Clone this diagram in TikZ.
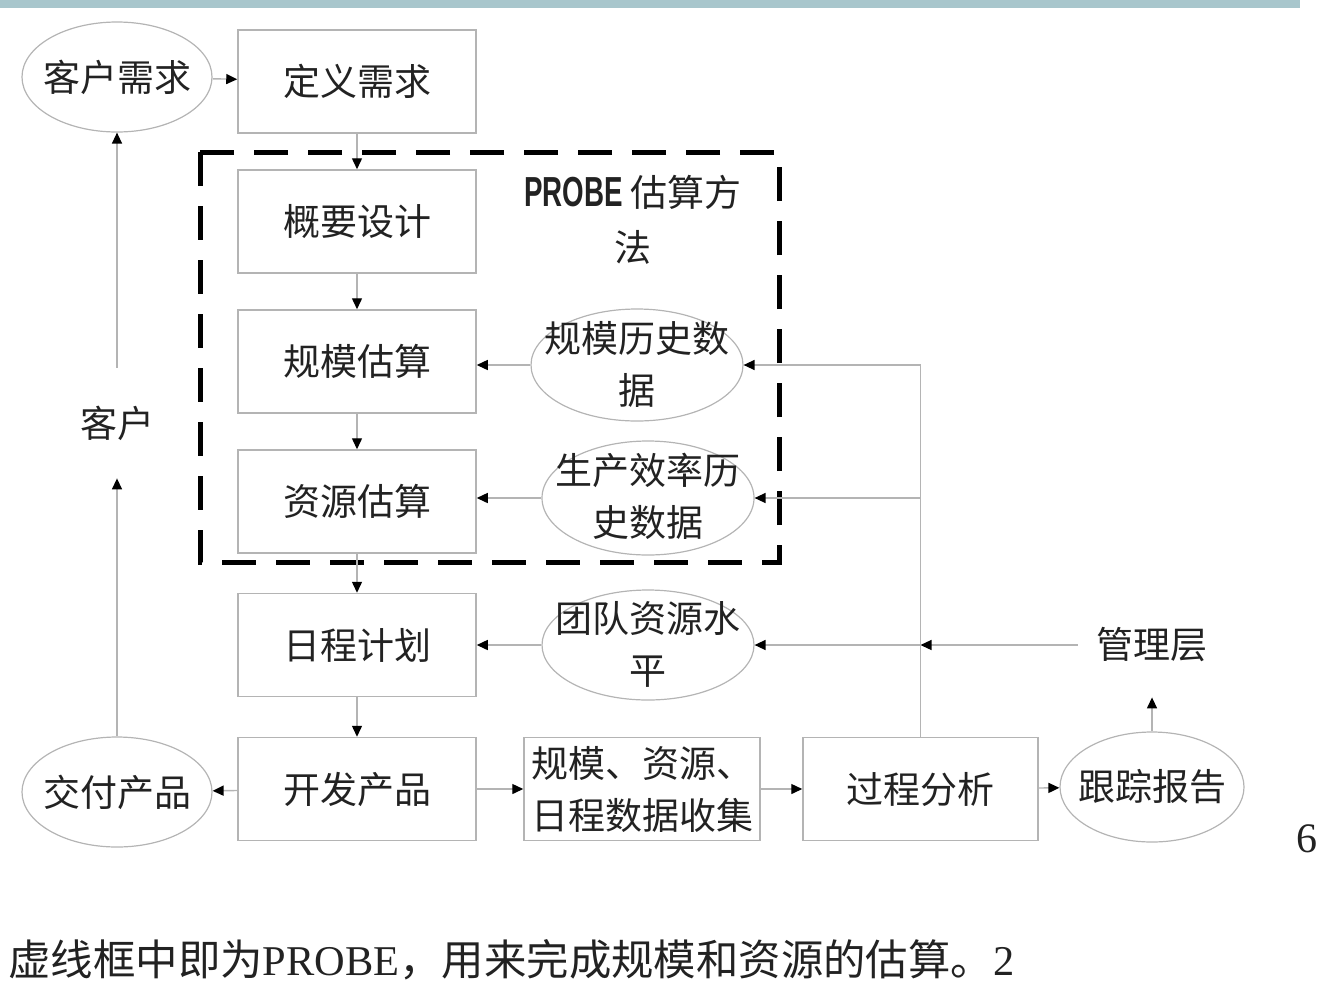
\documentclass[tikz,border=0pt]{standalone}
\usepackage{fontspec}
\setmainfont{Liberation Serif}
\newfontfamily\cjk{Noto Sans CJK SC}
\newfontfamily\lsans{Liberation Sans}
\usetikzlibrary{shapes.geometric,arrows.meta}
\definecolor{lg}{HTML}{B4B4B4}
\definecolor{barc}{HTML}{A8C6CC}
\definecolor{txt}{HTML}{222222}
\tikzset{
  box/.style={draw=lg, line width=0.75pt, minimum width=119pt, minimum height=51.5pt, inner sep=0pt,
    font=\cjk\fontsize{18.5}{26}\selectfont, text=txt, align=center},
  ell/.style={draw=lg, line width=0.6pt, ellipse, inner sep=0pt},
  etxt/.style={font=\cjk\fontsize{18.5}{26}\selectfont, text=txt, align=center, inner sep=0pt},
  arr/.style={draw=lg, line width=0.7pt, -{Triangle[length=5.5pt,width=5pt,color=black]}},
  conn/.style={draw=lg, line width=0.7pt},
}
\begin{document}
\begin{tikzpicture}[x=0.5pt,y=-0.5pt]
\useasboundingbox (0,0) rectangle (1337,991);
% top bar
\fill[barc] (0,0) rectangle (1300,8);
% dashed frame
\draw[black, line width=2.5pt, dash pattern=on 17pt off 10pt] (200,152) rectangle (779,562);
% boxes
\node[box] (dy) at (357,81.5) {定义需求};
\node[box] (gy) at (357,221.5) {概要设计};
\node[box] (gm) at (357,361.5) {规模估算};
\node[box] (zy) at (357,501.5) {资源估算};
\node[box] (rc) at (357,645) {日程计划};
\node[box] (kf) at (357,789) {开发产品};
\node[box, minimum width=118pt, align=left] (sj) at (642,789) {规模、资源、\\日程数据收集};
\node[box, minimum width=117.5pt] (pa) at (920.5,789) {过程分析};
% ellipses
\node[ell, minimum width=95pt, minimum height=55pt] (ck) at (117,77) {};
\node[etxt] at (ck) {客户需求};
\node[ell, minimum width=95pt, minimum height=55pt] (jf) at (117,792) {};
\node[etxt] at (jf) {交付产品};
\node[ell, minimum width=106pt, minimum height=56pt] (e1) at (637,365) {};
\node[etxt] at (637,364) {规模历史数\\据};
\node[ell, minimum width=106pt, minimum height=57pt] (e2) at (648,498) {};
\node[etxt] at (648,496) {生产效率历\\史数据};
\node[ell, minimum width=106pt, minimum height=55pt] (e3) at (648,645) {};
\node[etxt] at (648,644) {团队资源水\\平};
\node[ell, minimum width=92pt, minimum height=55pt] (tr) at (1152,787) {};
\node[etxt] at (tr) {跟踪报告};
% plain texts
\node[etxt, minimum height=55pt] (kh) at (117,423) {客户};
\node[etxt, minimum width=74pt, minimum height=52pt] (mg) at (1152,645) {管理层};
\node[inner sep=0pt, align=center, text=txt, font=\cjk\fontsize{18.5}{27.5}\selectfont] (pr) at (633,220)
  {{\lsans\bfseries\fontsize{21}{27.5}\selectfont\scalebox{0.66}[1]{PROBE}} 估算方\\法};
% junctions
\coordinate (j1) at (920.5,365);
\coordinate (j2) at (920.5,498);
\coordinate (j3) at (920.5,645);
% connectors
\draw[arr] (ck) -- (dy);
\draw[arr] (dy) -- (gy);
\draw[arr] (gy) -- (gm);
\draw[arr] (gm) -- (zy);
\draw[arr] (zy) -- (rc);
\draw[arr] (rc) -- (kf);
\draw[arr] (kf) -- (jf);
\draw[arr] (kf) -- (sj);
\draw[arr] (sj) -- (pa);
\draw[arr] (pa) -- (tr);
\draw[arr] (jf) -- (kh);
\draw[arr] (kh) -- (ck);
\draw[arr] (e1.west) -- (gm.east |- e1.west);
\draw[arr] (e2.west) -- (zy.east |- e2.west);
\draw[arr] (e3.west) -- (rc.east |- e3.west);
\draw[conn] (pa.north) -- (j1);
\draw[arr] (j1) -- (e1.east);
\draw[arr] (j2) -- (e2.east);
\draw[arr] (j3) -- (e3.east);
\draw[arr] (mg.west) -- (j3);
\draw[arr] (tr) -- (mg);
% page number and caption
\node[anchor=base, inner sep=0pt, text=txt, font=\fontsize{21}{24}\selectfont] (pn) at (1307,852) {6};
\node[anchor=west, inner sep=0pt, text=txt, font=\fontsize{21.2}{26}\selectfont] (cap) at (8,960)
  {{\cjk 虚线框中即为}PROBE{\cjk ，用来完成规模和资源的估算。}2};
\end{tikzpicture}
\end{document}
